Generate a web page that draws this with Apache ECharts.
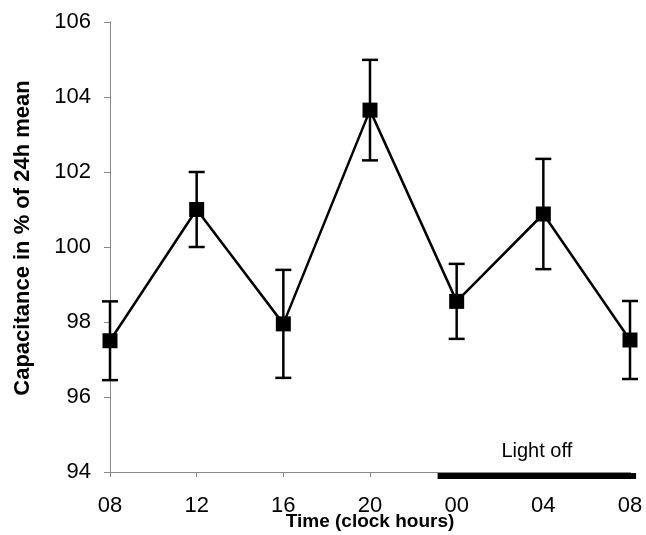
<!DOCTYPE html>
<html>
<head>
<meta charset="utf-8">
<script src="https://cdn.jsdelivr.net/npm/echarts@6/dist/echarts.min.js"></script>
<style>
  html, body { margin: 0; padding: 0; background: #fff; }
  #chart { width: 646px; height: 535px; }
</style>
</head>
<body>
<div id="chart"></div>
<script>
// clock hour labels, one per sample (x position = index)
var hourLabels = ['08', '12', '16', '20', '00', '04', '08'];
// capacitance in % of 24h mean
var means = [97.5, 101.0, 97.95, 103.65, 98.55, 100.88, 97.52];
// error bar half length
var errors = [1.05, 1.0, 1.44, 1.34, 1.0, 1.47, 1.04];
// dark period, in x-axis units (start, end)
var lightOff = [3.78, 6.07];
var yTicks = { min: 94, max: 106, step: 2 };

var chart = echarts.init(document.getElementById('chart'));

var points = means.map(function (v, i) { return [i, v]; });
var bars = means.map(function (v, i) { return [i, v - errors[i], v + errors[i]]; });

var option = {
    animation: false,
    grid: { left: 110, right: 16, top: 22, bottom: 63, containLabel: false, outerBoundsMode: 'none' },
    xAxis: {
        type: 'value',
        min: 0,
        max: 6,
        interval: 1,
        name: 'Time (clock hours)',
        nameLocation: 'middle',
        nameGap: 40,
        nameMoveOverlap: false,
        nameTextStyle: { fontFamily: 'Liberation Sans', fontSize: 19, fontWeight: 'bold', color: '#000' },
        axisLine: { lineStyle: { color: '#888', width: 1 } },
        axisTick: { length: 5, lineStyle: { color: '#888' } },
        splitLine: { show: false },
        axisLabel: {
            margin: 23,
            fontFamily: 'Liberation Sans',
            fontSize: 22,
            color: '#000',
            formatter: function (v) { return hourLabels[v]; }
        }
    },
    yAxis: {
        type: 'value',
        min: yTicks.min,
        max: yTicks.max,
        interval: yTicks.step,
        name: 'Capacitance in % of 24h mean',
        nameLocation: 'middle',
        nameGap: 76,
        nameMoveOverlap: false,
        nameTextStyle: { fontFamily: 'Liberation Sans', fontSize: 22, fontWeight: 'bold', color: '#000', padding: [0, 0, 0, 18] },
        axisLine: { show: true, lineStyle: { color: '#888', width: 1 } },
        axisTick: { show: true, length: 6, lineStyle: { color: '#888' } },
        splitLine: { show: false },
        axisLabel: { margin: 19, fontFamily: 'Liberation Sans', fontSize: 22, color: '#000' }
    },
    series: [
        {
            // light-off bar with its label
            type: 'custom',
            clip: false,
            silent: true,
            data: [lightOff],
            renderItem: function (params, api) {
                var a = api.coord([api.value(0), yTicks.min]);
                var b = api.coord([api.value(1), yTicks.min]);
                return {
                    type: 'group',
                    children: [
                        { type: 'rect', shape: { x: a[0], y: a[1] + 1, width: b[0] - a[0], height: 6 }, style: { fill: '#000' } },
                        { type: 'text', style: { x: (a[0] + b[0]) / 2, y: a[1] - 11, text: 'Light off', align: 'center', verticalAlign: 'bottom',
                            font: '20px "Liberation Sans"', fill: '#000' } }
                    ]
                };
            }
        },
        {
            // error bars
            type: 'custom',
            silent: true,
            data: bars,
            renderItem: function (params, api) {
                var lo = api.coord([api.value(0), api.value(1)]);
                var hi = api.coord([api.value(0), api.value(2)]);
                var w = 8;
                var st = { stroke: '#000', lineWidth: 2.5 };
                return {
                    type: 'group',
                    children: [
                        { type: 'line', shape: { x1: lo[0], y1: lo[1], x2: hi[0], y2: hi[1] }, style: st },
                        { type: 'line', shape: { x1: lo[0] - w, y1: lo[1], x2: lo[0] + w, y2: lo[1] }, style: st },
                        { type: 'line', shape: { x1: hi[0] - w, y1: hi[1], x2: hi[0] + w, y2: hi[1] }, style: st }
                    ]
                };
            }
        },
        {
            type: 'line',
            data: points,
            symbol: 'rect',
            symbolSize: 15,
            lineStyle: { color: '#000', width: 2.5 },
            itemStyle: { color: '#000' }
        }
    ]
};

chart.setOption(option);
</script>
</body>
</html>
